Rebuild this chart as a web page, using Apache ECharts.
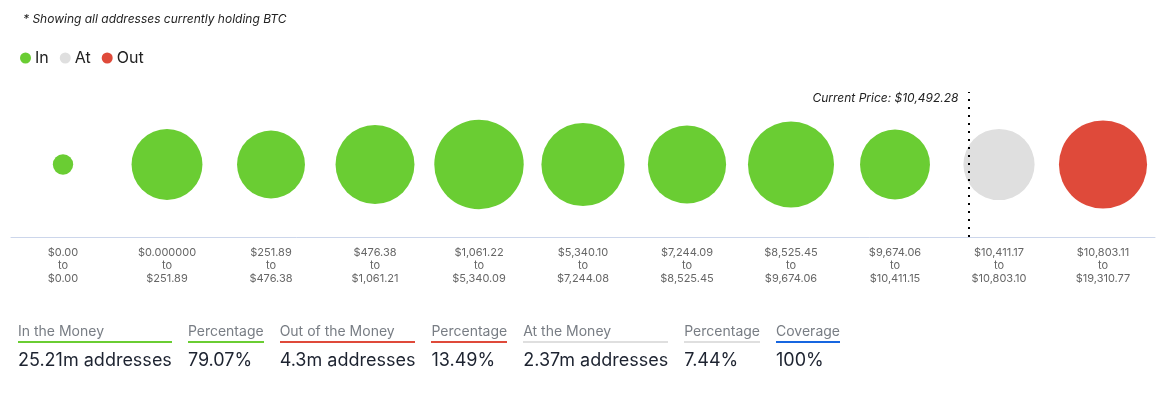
<!DOCTYPE html>
<html>
<head>
<meta charset="utf-8">
<script src="https://cdn.jsdelivr.net/npm/echarts@6/dist/echarts.min.js"></script>
<style>
  html, body { margin: 0; padding: 0; background: #fff; }
  #wrap { position: relative; width: 1166px; height: 393px; overflow: hidden; font-family: Inter, "Noto Sans", sans-serif; }
  #chart { position: absolute; left: 0; top: 0; width: 1166px; height: 393px; }
  #summary { position: absolute; left: 18px; top: 322px; white-space: nowrap; }
  .item { display: inline-block; vertical-align: top; margin-right: 16px; }
  .lab { font-size: 14px; line-height: 17px; color: #787d84; padding-bottom: 2px; border-bottom: 2px solid #ccc; }
  .val { font-size: 18px; line-height: 22px; color: #1d2330; margin-top: 6px; }
</style>
</head>
<body>
<div id="wrap">
  <div id="chart"></div>
  <div id="summary"></div>
</div>
<script>
// ---- data ----
const binFrom = ['$0.00', '$0.000000', '$251.89', '$476.38', '$1,061.22', '$5,340.10', '$7,244.09', '$8,525.45', '$9,674.06', '$10,411.17', '$10,803.11'];
const binTo   = ['$0.00', '$251.89', '$476.38', '$1,061.21', '$5,340.09', '$7,244.08', '$8,525.45', '$9,674.06', '$10,411.15', '$10,803.10', '$19,310.77'];
const binStatus = ['In', 'In', 'In', 'In', 'In', 'In', 'In', 'In', 'In', 'At', 'Out'];
// addresses (millions) per price bin
const addresses = [0.21, 2.55, 2.34, 3.16, 4.06, 3.51, 3.10, 3.76, 2.48, 2.57, 3.94];
const currentPrice = 10492.28;
const subtitle = '* Showing all addresses currently holding BTC';
const summaryLabels = ['In the Money', 'Percentage', 'Out of the Money', 'Percentage', 'At the Money', 'Percentage', 'Coverage'];
const summaryValues = ['25.21m addresses', '79.07%', '4.3m addresses', '13.49%', '2.37m addresses', '7.44%', '100%'];
const summaryKinds  = ['In', 'In', 'Out', 'Out', 'At', 'At', 'Cov'];

// ---- styles ----
const colors = { In: '#6acd33', At: '#dfdfdf', Out: '#df4a3a', Cov: '#1766e0' };

const num = s => parseFloat(s.replace(/[$,]/g, ''));
const categories = binFrom.map((f, i) => f + '\nto\n' + binTo[i]);

// position of current price in category coordinates
let pricePos = 0;
for (let i = 0; i < binFrom.length; i++) {
  const a = num(binFrom[i]), b = num(binTo[i]);
  if (currentPrice >= a && currentPrice <= b && b > a) {
    pricePos = i - 0.5 + (currentPrice - a) / (b - a);
  }
}
const priceText = 'Current Price: $' + currentPrice.toLocaleString('en-US', { minimumFractionDigits: 2, maximumFractionDigits: 2 });

const sizeK = 44.4;
function seriesFor(status) {
  return {
    name: status,
    type: 'scatter',
    xAxisIndex: 0,
    yAxisIndex: 0,
    data: addresses.map((v, i) => binStatus[i] === status ? [i, 0, v] : null).filter(d => d),
    symbol: 'circle',
    symbolSize: d => sizeK * Math.sqrt(d[2]),
    itemStyle: { color: colors[status], opacity: 1 },
    emphasis: { disabled: true },
    z: 2
  };
}

const chart = echarts.init(document.getElementById('chart'), null, { renderer: 'canvas' });
chart.setOption({
  animation: false,
  title: {
    text: subtitle,
    left: 18, top: 8,
    textStyle: { fontFamily: 'Inter', fontStyle: 'italic', fontWeight: 'normal', fontSize: 12, color: '#222' }
  },
  legend: {
    data: ['In', 'At', 'Out'],
    left: 15, top: 45,
    icon: 'circle', itemWidth: 11, itemHeight: 11, itemGap: 11,
    textStyle: { fontFamily: 'Inter', fontSize: 16, color: '#222', padding: [0, 0, 0, -1] }
  },
  grid: { left: 11, right: 11, top: 92, bottom: 156 },
  xAxis: [
    {
      type: 'category', data: categories, boundaryGap: true,
      axisLine: { onZero: false, lineStyle: { color: '#ccd6eb', width: 1 } },
      axisTick: { show: false },
      axisLabel: { interval: 0, margin: 9, fontFamily: 'Inter', fontSize: 11, lineHeight: 13, color: '#666', align: 'center' },
      splitLine: { show: false }
    },
    { type: 'value', min: -0.5, max: 10.5, show: false }
  ],
  yAxis: { type: 'value', min: -1, max: 1, show: false },
  series: [
    seriesFor('In'), seriesFor('At'), seriesFor('Out'),
    {
      name: 'price', type: 'line', xAxisIndex: 1, yAxisIndex: 0,
      data: [[pricePos, 0]], showSymbol: false, symbol: 'none', lineStyle: { opacity: 0 },
      silent: true, z: 3,
      markLine: {
        silent: true, symbol: 'none', animation: false,
        label: { show: false },
        lineStyle: { color: '#000', type: [2, 6], width: 2 },
        data: [{ xAxis: pricePos }]
      }
    }
  ]
});

const px = chart.convertToPixel({ xAxisIndex: 1 }, pricePos);
chart.setOption({
  graphic: [{
    type: 'text', x: px - 10, y: 98, z: 10,
    style: { text: priceText, align: 'right', verticalAlign: 'middle', font: 'italic 12px Inter', fill: '#222' }
  }]
});

// summary row
const sum = document.getElementById('summary');
summaryLabels.forEach((l, i) => {
  const d = document.createElement('div');
  d.className = 'item';
  const a = document.createElement('div');
  a.className = 'lab';
  a.textContent = l;
  a.style.borderBottomColor = colors[summaryKinds[i]];
  const b = document.createElement('div');
  b.className = 'val';
  b.textContent = summaryValues[i];
  d.appendChild(a); d.appendChild(b);
  sum.appendChild(d);
});
</script>
</body>
</html>
